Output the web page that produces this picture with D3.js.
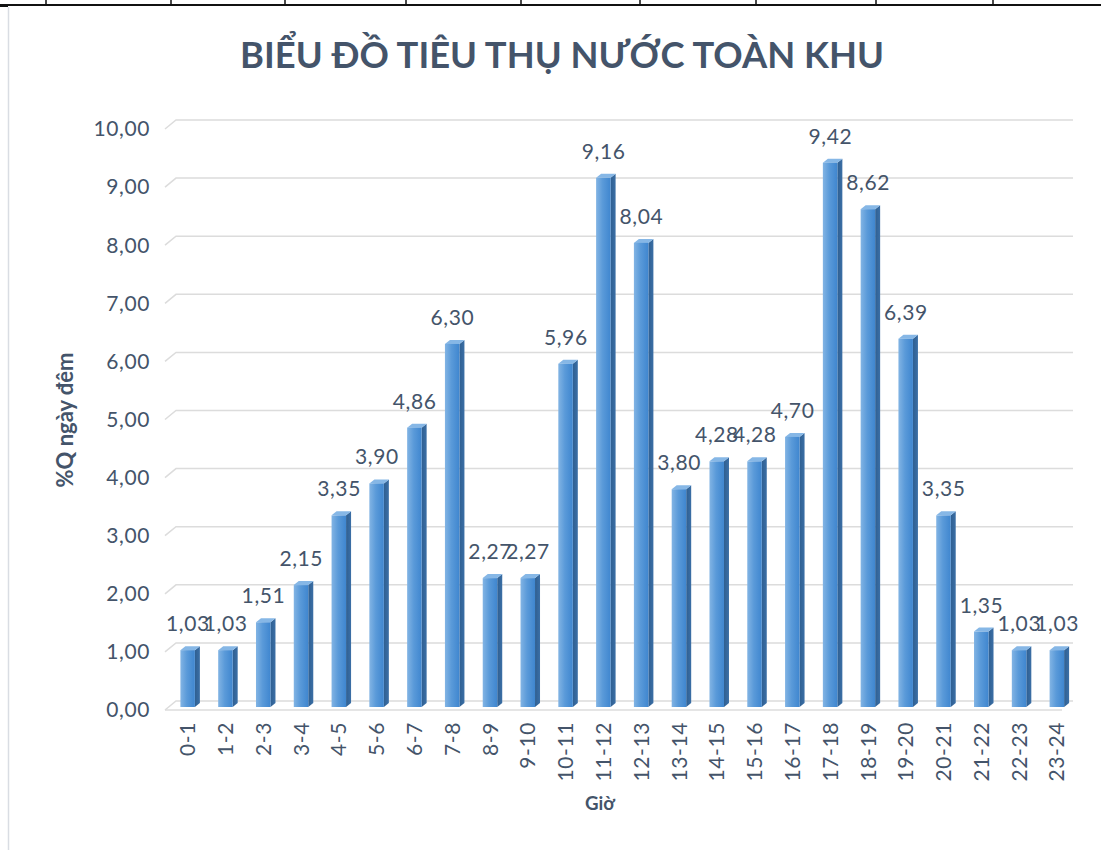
<!DOCTYPE html>
<html><head><meta charset="utf-8">
<script src="https://cdn.jsdelivr.net/npm/d3@7"></script>
<style>body{margin:0;background:#fff;}svg{display:block;}</style>
</head><body>
<svg id="c" width="1101" height="850"></svg>
<script>
const categories = ["0-1","1-2","2-3","3-4","4-5","5-6","6-7","7-8","8-9","9-10","10-11","11-12","12-13","13-14","14-15","15-16","16-17","17-18","18-19","19-20","20-21","21-22","22-23","23-24"];
const values = [1.03,1.03,1.51,2.15,3.35,3.90,4.86,6.30,2.27,2.27,5.96,9.16,8.04,3.80,4.28,4.28,4.70,9.42,8.62,6.39,3.35,1.35,1.03,1.03];
const yTicks = [0,1,2,3,4,5,6,7,8,9,10];
const title = "BIỂU ĐỒ TIÊU THỤ NƯỚC TOÀN KHU";
const yTitle = "%Q ngày đêm";
const xTitle = "Giờ";

const svg = d3.select("#c");
const txt = "#44546a";
const font = "Lato, 'Open Sans', sans-serif";
const fmt = v => v.toFixed(2).replace(".", ",");

// spreadsheet cell borders at the top
const colLines = [46,171,285,406,521,640,756,876,993];
svg.append("rect").attr("x",0).attr("y",4).attr("width",1101).attr("height",2).attr("fill","#111");
colLines.forEach(x=>svg.append("rect").attr("x",x-0.75).attr("y",0).attr("width",1.5).attr("height",5).attr("fill","#111"));
svg.append("rect").attr("x",0).attr("y",4).attr("width",8).attr("height",3).attr("fill","#111");
// chart area border
svg.append("line").attr("x1",8.5).attr("x2",8.5).attr("y1",7).attr("y2",850).attr("stroke","#d9dde3").attr("stroke-width",1.5);

const x = d3.scaleBand().domain(categories).range([168,1075]).paddingInner(0).paddingOuter(0);
const y = d3.scaleLinear().domain([0,10]).range([710,129]);
const ddx = 11, ddy = -9;     // wall depth
const bdx = 5, bdy = -4;      // bar depth

const defs = svg.append("defs");
const gf = defs.append("linearGradient").attr("id","gf").attr("x1","0").attr("x2","1").attr("y1","0").attr("y2","0");
gf.append("stop").attr("offset","0").attr("stop-color","#82b4e4");
gf.append("stop").attr("offset","0.45").attr("stop-color","#5a9ad9");
gf.append("stop").attr("offset","1").attr("stop-color","#3f86cf");
const gs = defs.append("linearGradient").attr("id","gs").attr("x1","0").attr("x2","1").attr("y1","0").attr("y2","0");
gs.append("stop").attr("offset","0").attr("stop-color","#2f5f91");
gs.append("stop").attr("offset","1").attr("stop-color","#3b6fa6");

// gridlines (side wall diagonal + back wall)
const grid = svg.append("g");
yTicks.forEach(t=>{
  const yf = y(t);
  grid.append("path").attr("d",`M165,${yf} L${165+ddx},${yf+ddy} L1073,${yf+ddy}`)
    .attr("fill","none").attr("stroke","#dcdcdc").attr("stroke-width",1.5);
});
// floor front edge
grid.append("line").attr("x1",165).attr("x2",1062).attr("y1",y(0)).attr("y2",y(0)).attr("stroke","#dcdcdc").attr("stroke-width",1.5);

// y tick labels
svg.append("g").selectAll("text").data(yTicks).join("text")
  .attr("x",150).attr("y",d=>y(d)).attr("dy","0.35em").attr("text-anchor","end")
  .attr("fill",txt).attr("font-family",font).attr("font-size",21).attr("letter-spacing","0.6px").text(d=>fmt(d));

// bars
const bw = 14.5;
const bars = svg.append("g").selectAll("g").data(values).join("g");
bars.each(function(v,i){
  const g = d3.select(this);
  const c = x(categories[i]) + x.bandwidth()/2;
  const x0 = c - 6.5, x1 = x0 + bw;
  const yt = y(v), yb = y(0) - 3;
  g.append("path").attr("d",`M${x1},${yt} L${x1+bdx},${yt+bdy} L${x1+bdx},${yb+bdy} L${x1},${yb} Z`).attr("fill","url(#gs)");
  g.append("path").attr("d",`M${x0},${yt} L${x0+bdx},${yt+bdy} L${x1+bdx},${yt+bdy} L${x1},${yt} Z`).attr("fill","#86b7e6");
  g.append("rect").attr("x",x0).attr("y",yt).attr("width",bw).attr("height",yb-yt).attr("fill","url(#gf)");
});
svg.append("g").selectAll("text").data(values).join("text")
  .attr("x",(v,i)=>x(categories[i]) + x.bandwidth()/2 + 1).attr("y",v=>y(v)-19).attr("text-anchor","middle")
  .attr("fill",txt).attr("font-family",font).attr("font-size",21).attr("letter-spacing","0.6px").text(v=>fmt(v));

// x tick labels
svg.append("g").selectAll("text").data(categories).join("text")
  .attr("transform",d=>`translate(${x(d)+x.bandwidth()/2+1},722) rotate(-90)`)
  .attr("text-anchor","end").attr("dy","0.35em")
  .attr("fill",txt).attr("font-family",font).attr("font-size",21).attr("letter-spacing","0.6px").text(d=>d);

// titles
function fit(sel, w){ const n = sel.node(); const cur = n.getComputedTextLength(); const fs = parseFloat(sel.attr("font-size")); sel.attr("font-size", fs*w/cur); }
const t = svg.append("text").attr("x",562).attr("y",68).attr("text-anchor","middle")
  .attr("fill",txt).attr("font-family",font).attr("font-weight","bold").attr("font-size",36).text(title);
fit(t,644);
const yt = svg.append("text").attr("transform","translate(73,420) rotate(-90)").attr("text-anchor","middle")
  .attr("fill",txt).attr("font-family",font).attr("font-weight","bold").attr("font-size",18).text(yTitle);
fit(yt,135);
const xt = svg.append("text").attr("x",600).attr("y",810).attr("text-anchor","middle")
  .attr("fill",txt).attr("font-family",font).attr("font-weight","bold").attr("font-size",18).text(xTitle);
fit(xt,30);
</script>
</body></html>
